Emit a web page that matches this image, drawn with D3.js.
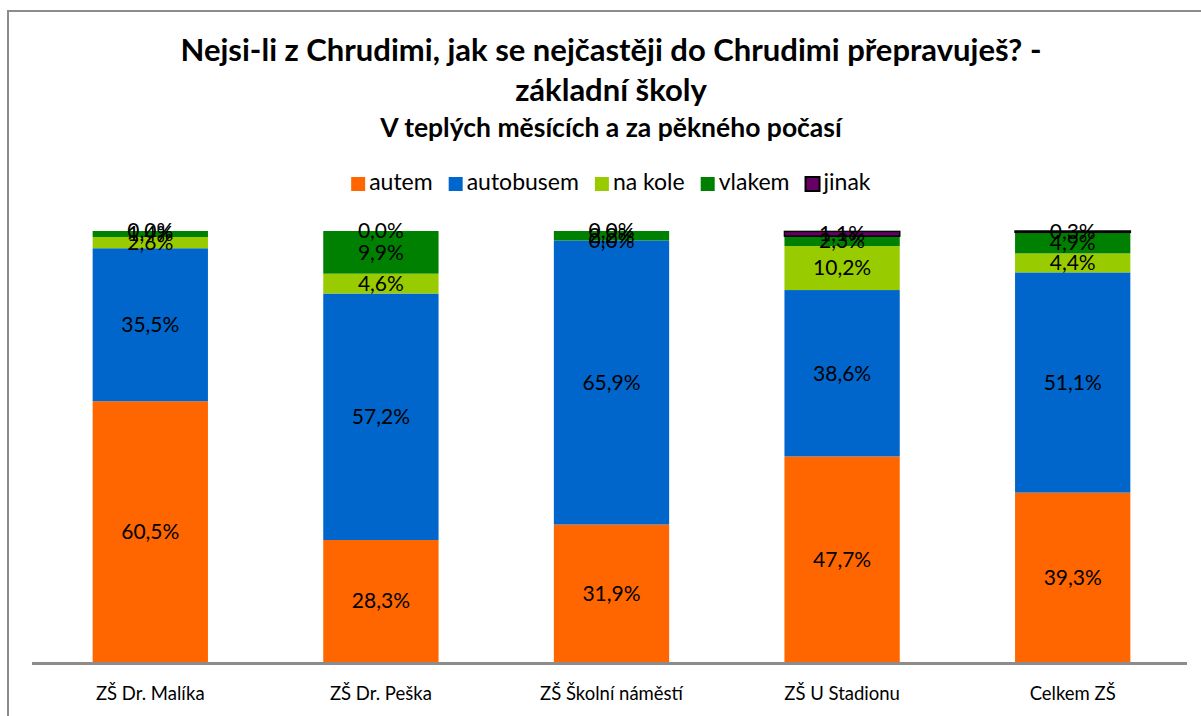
<!DOCTYPE html>
<html>
<head>
<meta charset="utf-8">
<script src="https://cdn.jsdelivr.net/npm/d3@7"></script>
<style>
  body { margin: 0; background: #fff; }
  svg { display: block; font-family: Lato, "Open Sans", sans-serif; }
</style>
</head>
<body>
<div id="chart"></div>
<script>
const categories = ["ZŠ Dr. Malíka", "ZŠ Dr. Peška", "ZŠ Školní náměstí", "ZŠ U Stadionu", "Celkem ZŠ"];
const seriesNames = ["autem", "autobusem", "na kole", "vlakem", "jinak"];
const autem = [60.5, 28.3, 31.9, 47.7, 39.3];
const autobusem = [35.5, 57.2, 65.9, 38.6, 51.1];
const naKole = [2.6, 4.6, 0.0, 10.2, 4.4];
const vlakem = [1.4, 9.9, 2.2, 2.3, 4.9];
const jinak = [0.0, 0.0, 0.0, 1.1, 0.3];
const colors = ["#FF6600", "#0066CC", "#99CC00", "#008000", "#660066"];

const W = 1201, H = 716;
const MARGIN = { TOP: 231, BOTTOM: 54, LEFT: 35, RIGHT: 13 };

const rows = categories.map((c, i) => ({
  group: c,
  "autem": autem[i],
  "autobusem": autobusem[i],
  "na kole": naKole[i],
  "vlakem": vlakem[i],
  "jinak": jinak[i],
}));

const svg = d3.select("#chart").append("svg").attr("width", W).attr("height", H);

// chart border (only top and left sides visible in the frame)
svg.append("rect")
  .attr("x", 8).attr("y", 11)
  .attr("width", W + 20).attr("height", H + 20)
  .attr("fill", "none").attr("stroke", "#8c8c8c").attr("stroke-width", 2);

const x = d3.scaleBand().domain(categories)
  .range([MARGIN.LEFT, W - MARGIN.RIGHT]).paddingInner(0.5).paddingOuter(0.25);
const y = d3.scaleLinear().domain([0, 100]).range([H - MARGIN.BOTTOM, MARGIN.TOP]);
const color = d3.scaleOrdinal().domain(seriesNames).range(colors);

const stacked = d3.stack().keys(seriesNames)(rows);

// bars
const layers = svg.append("g").selectAll("g").data(stacked).join("g")
  .attr("fill", (d) => color(d.key));

layers.selectAll("rect").data((d) => d.map((v) => ({ key: d.key, v }))).join("rect")
  .filter((d) => d.v[1] - d.v[0] > 0)
  .attr("x", (d) => x(d.v.data.group))
  .attr("y", (d) => y(d.v[1]))
  .attr("width", x.bandwidth())
  .attr("height", (d) => y(d.v[0]) - y(d.v[1]))
  .attr("stroke", (d) => (d.key === "jinak" ? "#000" : "none"))
  .attr("stroke-width", 1.5);

// axis line
svg.append("line")
  .attr("x1", 32).attr("x2", W - 14)
  .attr("y1", y(0) + 1.5).attr("y2", y(0) + 1.5)
  .attr("stroke", "#8c8c8c").attr("stroke-width", 3);

// value labels
const fmt = (v) => d3.format(".1f")(v).replace(".", ",") + "%";
const labels = svg.append("g").attr("font-size", 21).attr("fill", "#000").attr("text-anchor", "middle");
stacked.forEach((layer) => {
  layer.forEach((v) => {
    labels.append("text")
      .attr("x", x(v.data.group) + x.bandwidth() / 2)
      .attr("y", (y(v[0]) + y(v[1])) / 2)
      .attr("dy", "0.35em")
      .text(fmt(v[1] - v[0]));
  });
});

// category labels
svg.append("g").attr("font-size", 18.5).attr("text-anchor", "middle")
  .selectAll("text").data(categories).join("text")
  .attr("x", (d) => x(d) + x.bandwidth() / 2)
  .attr("y", y(0) + 38)
  .text((d) => d);

// titles
const cx = 611;
svg.append("text").attr("x", cx).attr("y", 61).attr("text-anchor", "middle")
  .attr("font-size", 31).attr("font-weight", "bold")
  .text("Nejsi-li z Chrudimi, jak se nejčastěji do Chrudimi přepravuješ? -");
svg.append("text").attr("x", cx).attr("y", 101).attr("text-anchor", "middle")
  .attr("font-size", 31).attr("font-weight", "bold")
  .text("základní školy");
svg.append("text").attr("x", cx).attr("y", 137).attr("text-anchor", "middle")
  .attr("font-size", 26.5).attr("font-weight", "bold")
  .text("V teplých měsících a za pěkného počasí");

// legend
const legend = svg.append("g").attr("font-size", 23);
const items = legend.selectAll("g").data(seriesNames).join("g");
items.append("rect")
  .attr("width", 14).attr("height", 14).attr("y", -13)
  .attr("fill", (d) => color(d))
  .attr("stroke", (d) => (d === "jinak" ? "#000" : "none"))
  .attr("stroke-width", 2);
items.append("text").attr("x", 18).text((d) => d);
let offset = 0;
items.each(function () {
  const w = this.getBBox().width;
  d3.select(this).attr("transform", `translate(${offset},0)`);
  offset += w + 16;
});
legend.attr("transform", `translate(${cx - (offset - 16) / 2},190)`);
</script>
</body>
</html>
